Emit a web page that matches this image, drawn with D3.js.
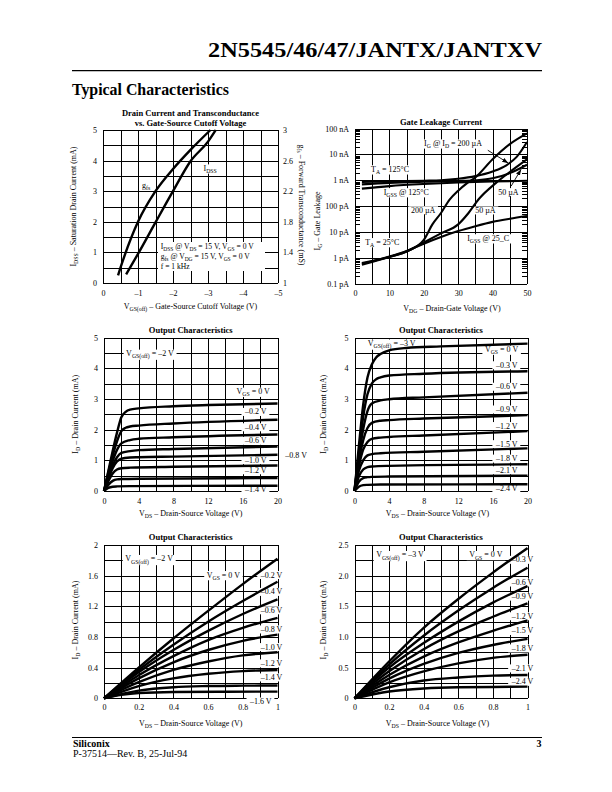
<!DOCTYPE html>
<html><head><meta charset="utf-8">
<script src="https://cdn.jsdelivr.net/npm/d3@7"></script>
<style>body{margin:0;background:#fff}svg{display:block}</style>
</head><body><svg id="c" width="612" height="792"></svg>
<script>
// ---------- Chart 1: Drain current and transconductance ----------
const c1XTicks = [0,-1,-2,-3,-4,-5];
const c1XLabels = ["0","–1","–2","–3","–4","–5"];
const c1YTicks = [0,1,2,3,4,5];
const c1YLabels = ["0","1","2","3","4","5"];
const c1Y2Ticks = [1,1.4,1.8,2.2,2.6,3];
const c1Y2Labels = ["1","1.4","1.8","2.2","2.6","3"];
const c1Idss = [[-3.22,5.0],[-3.0,4.62],[-2.5,3.98],[-2.0,3.0],[-1.5,1.98],[-1.0,0.95],[-0.66,0.28]];
const c1Gfs = [[-3.07,3.0],[-2.5,2.74],[-2.0,2.49],[-1.5,2.2],[-1.0,1.8],[-0.5,1.2],[-0.43,1.1]];

// ---------- Chart 2: Gate leakage (pA) ----------
const c2XTicks = [0,10,20,30,40,50];
const c2XLabels = ["0","10","20","30","40","50"];
const c2YTicks = [0.1,1,10,100,1000,10000,100000];
const c2YLabels = ["0.1 pA","1 pA","10 pA","100 pA","1 nA","10 nA","100 nA"];
const c2Igss125 = [[2,480],[10,600],[20,720],[30,820],[40,900],[50,960]];
const c2Id200At125 = [[2,860],[10,910],[20,970],[25,1010],[30,1150],[35,1450],[40,2200],[44,3800],[47,8000],[50,30000]];
const c2Id50At125 = [[2,700],[10,800],[20,880],[30,940],[35,1000],[40,1200],[45,1900],[50,4000]];
const c2Igss25 = [[2,0.6],[10,1.15],[15,1.9],[20,3.6],[25,6.5],[30,11],[35,17],[40,25],[45,33],[50,42]];
const c2Id50At25 = [[2,0.65],[10,1.1],[15,1.8],[20,4],[25,9],[30,20],[33,55],[36,190],[41,800],[45,2100],[50,6500]];
const c2Id200At25 = [[2,0.55],[10,1.1],[15,1.8],[20,5],[22.5,20],[25,55],[27.5,180],[30,400],[32.5,760],[35,1300],[40,6500],[45,25000],[50,65000]];

// ---------- Chart 3: Output characteristics, VGS(off) = -2 V ----------
const c3XTicks = [0,4,8,12,16,20];
const c3XLabels = ["0","4","8","12","16","20"];
const c3YTicks = [0,1,2,3,4,5];
const c3YLabels = ["0","1","2","3","4","5"];
const c3Vgs = ["0","–0.2","–0.4","–0.6","–0.8","–1.0","–1.2","–1.4"];
const c3Curves = [
  [[0,0],[0.5,0.65],[1,1.3],[1.5,1.9],[2,2.4],[2.5,2.58],[3,2.65],[4,2.69],[8,2.76],[12,2.8],[20,2.85]],
  [[0,0],[0.5,0.6],[1,1.15],[1.5,1.62],[2,1.95],[2.5,2.06],[3,2.1],[4,2.13],[8,2.2],[20,2.32]],
  [[0,0],[0.5,0.52],[1,0.98],[1.5,1.34],[2,1.55],[3,1.66],[4,1.7],[8,1.75],[20,1.84]],
  [[0,0],[0.5,0.45],[1,0.84],[1.5,1.1],[2,1.24],[3,1.3],[4,1.33],[8,1.37],[20,1.45]],
  [[0,0],[0.5,0.4],[1,0.74],[1.5,0.96],[2,1.05],[3,1.09],[4,1.1],[8,1.12],[20,1.18]],
  [[0,0],[0.5,0.32],[1,0.57],[1.5,0.7],[2,0.74],[3,0.76],[8,0.79],[20,0.83]],
  [[0,0],[0.5,0.2],[1,0.33],[1.5,0.38],[2,0.39],[4,0.4],[20,0.42]],
  [[0,0],[0.5,0.1],[1,0.14],[1.5,0.15],[3,0.16],[20,0.17]]
];

// ---------- Chart 4: Output characteristics, VGS(off) = -3 V ----------
const c4Vgs = ["0","–0.3","–0.6","–0.9","–1.2","–1.5","–1.8","–2.1","–2.4"];
const c4Curves = [
  [[0,0],[0.5,1.45],[1,2.8],[1.5,3.7],[2,4.12],[2.5,4.35],[3,4.46],[4,4.58],[6,4.66],[10,4.71],[20,4.8]],
  [[0,0],[0.5,1.25],[1,2.4],[1.5,3.15],[2,3.5],[2.5,3.64],[3,3.7],[4,3.76],[8,3.82],[20,3.9]],
  [[0,0],[0.5,1.1],[1,2.0],[1.5,2.6],[2,2.85],[3,2.95],[4,2.99],[8,3.05],[20,3.2]],
  [[0,0],[0.5,0.95],[1,1.65],[1.5,2.05],[2,2.22],[3,2.29],[4,2.31],[8,2.36],[20,2.47]],
  [[0,0],[0.5,0.8],[1,1.35],[1.5,1.6],[2,1.7],[3,1.74],[4,1.76],[8,1.81],[20,1.95]],
  [[0,0],[0.5,0.65],[1,1.0],[1.5,1.16],[2,1.2],[3,1.23],[8,1.28],[20,1.39]],
  [[0,0],[0.5,0.47],[1,0.7],[1.5,0.78],[2,0.8],[4,0.82],[20,0.87]],
  [[0,0],[0.5,0.3],[1,0.42],[1.5,0.45],[2,0.46],[4,0.47],[20,0.5]],
  [[0,0],[0.5,0.14],[1,0.19],[1.5,0.2],[3,0.21],[20,0.22]]
];

// ---------- Chart 5: low-VDS, VGS(off) = -2 V ----------
const c5XTicks = [0,0.2,0.4,0.6,0.8,1];
const c5XLabels = ["0","0.2","0.4","0.6","0.8","1"];
const c5YTicks = [0,0.4,0.8,1.2,1.6,2];
const c5YLabels = ["0","0.4","0.8","1.2","1.6","2"];
const c5Vgs = ["0","–0.2","–0.4","–0.6","–0.8","–1.0","–1.2","–1.4","–1.6"];
const c5Curves = [
  [[0,0],[0.2,0.4],[0.4,0.78],[0.6,1.14],[0.8,1.49],[1,1.82]],
  [[0,0],[0.2,0.37],[0.4,0.7],[0.6,1.0],[0.8,1.27],[1,1.52]],
  [[0,0],[0.2,0.34],[0.4,0.63],[0.6,0.88],[0.8,1.1],[1,1.29]],
  [[0,0],[0.2,0.3],[0.4,0.55],[0.6,0.76],[0.8,0.92],[1,1.05]],
  [[0,0],[0.2,0.26],[0.4,0.47],[0.6,0.63],[0.8,0.75],[1,0.83]],
  [[0,0],[0.2,0.21],[0.4,0.37],[0.6,0.48],[0.8,0.56],[1,0.6]],
  [[0,0],[0.2,0.16],[0.4,0.26],[0.6,0.32],[0.8,0.355],[1,0.37]],
  [[0,0],[0.2,0.1],[0.4,0.145],[0.6,0.16],[0.8,0.165],[1,0.167]],
  [[0,0],[0.1,0.045],[0.2,0.07],[0.4,0.083],[0.7,0.086],[1,0.087]]
];

// ---------- Chart 6: low-VDS, VGS(off) = -3 V ----------
const c6YTicks = [0,0.5,1,1.5,2,2.5];
const c6YLabels = ["0","0.5","1.0","1.5","2.0","2.5"];
const c6Vgs = ["0","–0.3","–0.6","–0.9","–1.2","–1.5","–1.8","–2.1","–2.4"];
const c6Curves = [
  [[0,0],[0.2,0.6],[0.4,1.15],[0.6,1.62],[0.8,2.05],[1,2.45]],
  [[0,0],[0.2,0.55],[0.4,1.02],[0.6,1.43],[0.8,1.8],[1,2.13]],
  [[0,0],[0.2,0.5],[0.4,0.9],[0.6,1.25],[0.8,1.56],[1,1.83]],
  [[0,0],[0.2,0.44],[0.4,0.8],[0.6,1.09],[0.8,1.33],[1,1.55]],
  [[0,0],[0.2,0.38],[0.4,0.68],[0.6,0.91],[0.8,1.1],[1,1.27]],
  [[0,0],[0.2,0.32],[0.4,0.56],[0.6,0.74],[0.8,0.87],[1,0.97]],
  [[0,0],[0.2,0.26],[0.4,0.44],[0.6,0.57],[0.8,0.66],[1,0.71]],
  [[0,0],[0.2,0.18],[0.4,0.29],[0.6,0.34],[0.8,0.37],[1,0.38]],
  [[0,0],[0.2,0.11],[0.4,0.16],[0.6,0.18],[0.8,0.185],[1,0.19]]
];

// ================= drawing =================
const FONT = '"Liberation Serif","Times New Roman",Times,serif';
const svg = d3.select("#c");
svg.append("rect").attr("width",612).attr("height",792).attr("fill","#fff");

function rich(t, str, fs) {
  const parts = str.split(/(_\{[^}]*\})/).filter(s => s.length);
  let shifted = false;
  parts.forEach(p => {
    if (p.startsWith("_{")) {
      t.append("tspan").attr("font-size", fs*0.72).attr("dy", fs*0.28).text(p.slice(2,-1));
      shifted = true;
    } else {
      const s = t.append("tspan").text(p);
      if (shifted) { s.attr("dy", -fs*0.28); shifted = false; }
    }
  });
}
function addText(g, x, y, str, o = {}) {
  const fs = o.fs || 8;
  const t = g.append("text").attr("x", x).attr("y", y + fs*0.33)
    .attr("font-size", fs).attr("font-family", FONT)
    .attr("text-anchor", o.anchor || "middle").attr("fill", "#000");
  if (o.bold) t.attr("font-weight", "bold");
  if (o.rotate) t.attr("transform", `rotate(${o.rotate},${x},${y})`);
  rich(t, str, fs);
  if (o.bg) {
    const b = t.node().getBBox();
    g.insert("rect", () => t.node()).attr("x", b.x - 2.5).attr("y", b.y + 0.5)
      .attr("width", b.width + 5).attr("height", b.height - 1).attr("fill", "#fff");
  }
  return t;
}

function panel(o) {
  const g = svg.append("g");
  const [xa, xb] = o.x.range(); const [yb, ya] = o.y.range();
  const grid = g.append("g").attr("shape-rendering","crispEdges");
  grid.append("g").attr("transform", `translate(0,${yb})`)
    .call(d3.axisBottom(o.x).tickValues(o.gridX).tickSize(-(yb-ya)).tickFormat(""));
  grid.append("g").attr("transform", `translate(${xa},0)`)
    .call(d3.axisLeft(o.y).tickValues(o.gridY).tickSize(-(xb-xa)).tickFormat(""));
  grid.selectAll(".domain").remove();
  grid.selectAll("line").attr("stroke","#000").attr("stroke-width",1);
  const ax = g.append("g").attr("transform", `translate(0,${yb})`)
    .call(d3.axisBottom(o.x).tickValues(o.xTicks).tickFormat(d => o.xLabels[o.xTicks.indexOf(d)]).tickSize(0).tickPadding(o.xPad || 7));
  const ay = g.append("g").attr("transform", `translate(${xa},0)`)
    .call(d3.axisLeft(o.y).tickValues(o.yTicks).tickFormat(d => o.yLabels[o.yTicks.indexOf(d)]).tickSize(0).tickPadding(6));
  [ax, ay].forEach(a => { a.select(".domain").remove(); a.attr("font-family", FONT).attr("font-size", 8); a.selectAll("text").attr("fill","#000"); });
  o.title.forEach((tt, i) => addText(g, (xa+xb)/2, o.titleY + i*9.7, tt, {bold:true, fs:8.5}));
  addText(g, o.xLabelX || (xa+xb)/2, o.xLabelY, o.xLabel, {});
  addText(g, o.yLabelX, o.yLabelY || (ya+yb)/2, o.yLabel, {rotate:-90});
  const lab = g.append("g");
  const cur = g.append("g");
  return {g, lab, cur, x:o.x, y:o.y};
}
function drawCurves(p, curves, yScale, w) {
  const ys = yScale || p.y;
  const line = d3.line().x(d => p.x(d[0])).y(d => ys(d[1])).curve(d3.curveMonotoneX);
  p.cur.selectAll(null).data(curves).join("path")
    .attr("d", d => line(d)).attr("fill","none").attr("stroke","#000")
    .attr("stroke-width", w || 2.4).attr("stroke-linejoin","round").attr("stroke-linecap","butt");
}

// ---- Chart 1 ----
{
  const x = d3.scaleLinear([0,-5],[103,278]);
  const y = d3.scaleLinear([0,5],[283,130]);
  const y2 = d3.scaleLinear([1,3],[283,130]);
  const p = panel({x, y, gridX: d3.range(0,-5.01,-0.5), gridY: d3.range(0,5.01,0.5),
    xTicks:c1XTicks, xLabels:c1XLabels, yTicks:c1YTicks, yLabels:c1YLabels,
    title:["Drain Current and Transconductance","vs. Gate-Source Cutoff Voltage"], titleY:113,
    xLabel:"V_{GS(off)} – Gate-Source Cutoff Voltage (V)", xLabelY:306,
    yLabel:"I_{DSS} – Saturation Drain Current (mA)", yLabelX:73});
  const ar = p.g.append("g").attr("transform","translate(278,0)")
    .call(d3.axisRight(y2).tickValues(c1Y2Ticks).tickFormat(d => c1Y2Labels[c1Y2Ticks.indexOf(d)]).tickSize(0).tickPadding(5));
  ar.select(".domain").remove(); ar.attr("font-family",FONT).attr("font-size",8);
  addText(p.g, 301.5, 205, "g_{fs} – Forward Transconductance (mS)", {rotate:90});
  p.lab.append("rect").attr("x",158).attr("y",242).attr("width",107).attr("height",29).attr("fill","#fff");
  addText(p.lab, x(-1.65), y(1.19), "I_{DSS} @ V_{DS} = 15 V, V_{GS} = 0 V", {anchor:"start", fs:7.6});
  addText(p.lab, x(-1.65), y(0.875), "g_{fs} @ V_{DG} = 15 V, V_{GS} = 0 V", {anchor:"start", fs:7.6});
  addText(p.lab, x(-1.65), y(0.555), "f = 1 kHz", {anchor:"start", fs:7.6});
  addText(p.lab, x(-1.23), y(3.2), "g_{fs}", {bg:true});
  addText(p.lab, x(-3.06), y(3.75), "I_{DSS}", {bg:true});
  drawCurves(p, [c1Idss]);
  drawCurves(p, [c1Gfs], y2);
}

// ---- Chart 2 ----
{
  const x = d3.scaleLinear([0,50],[355,527]);
  const y = d3.scaleLog([0.1,100000],[284,128.5]);
  const p = panel({x, y, gridX: d3.range(0,50.1,5), gridY: c2YTicks,
    xTicks:c2XTicks, xLabels:c2XLabels, yTicks:c2YTicks, yLabels:c2YLabels, xPad:6,
    title:["Gate Leakage Current"], titleY:122.5,
    xLabel:"V_{DG} – Drain-Gate Voltage (V)", xLabelX:452, xLabelY:308,
    yLabel:"I_{G} – Gate Leakage", yLabelX:317, yLabelY:221});
  const minors = [];
  for (let d = -1; d < 5; d++) for (let k = 2; k <= 9; k++) minors.push(k * Math.pow(10, d));
  const ml = p.g.append("g").attr("transform","translate(355,0)").call(d3.axisLeft(y).tickValues(minors).tickSize(-5).tickFormat(""));
  const mr = p.g.append("g").attr("transform","translate(527,0)").call(d3.axisRight(y).tickValues(minors).tickSize(-5).tickFormat(""));
  [ml, mr].forEach(a => { a.select(".domain").remove(); a.selectAll("line").attr("stroke","#000").attr("stroke-width",1).attr("shape-rendering","crispEdges"); });
  const ann = [
    [28.5, 27000, "I_{G} @ I_{D} = 200 µA"], [10.2, 2700, "T_{A} = 125°C"], [14.9, 355, "I_{GSS} @ 125°C"],
    [19.8, 71, "200 µA"], [37.9, 70, "50 µA"], [44.6, 355, "50 µA"], [7.9, 4.2, "T_{A} = 25°C"], [38.7, 5.9, "I_{GSS} @ 25_C"]
  ];
  ann.forEach(a => addText(p.lab, x(a[0]), y(a[1]), a[2], {bg:true}));
  drawCurves(p, [c2Igss125, c2Id200At125, c2Id50At125, c2Igss25, c2Id50At25, c2Id200At25], null, 2.1);
  const defs = svg.append("defs");
  defs.append("marker").attr("id","ah").attr("viewBox","0 0 10 10").attr("refX",10).attr("refY",5)
    .attr("markerWidth",7).attr("markerHeight",7).attr("orient","auto-start-reverse")
    .append("path").attr("d","M0,1.5L10,5L0,8.5Z").attr("fill","#000");
  const arrows = [[[38.6,14500],[44.6,4600]],[[45.4,600],[48.3,2700]]];
  arrows.forEach(a => p.cur.append("line").attr("x1",x(a[0][0])).attr("y1",y(a[0][1])).attr("x2",x(a[1][0])).attr("y2",y(a[1][1]))
    .attr("stroke","#000").attr("stroke-width",0.9).attr("marker-end","url(#ah)"));
}

// ---- Chart 3 ----
{
  const x = d3.scaleLinear([0,20],[104,277.5]);
  const y = d3.scaleLinear([0,5],[491,337.5]);
  const p = panel({x, y, gridX: d3.range(0,20.1,2), gridY: d3.range(0,5.01,0.5),
    xTicks:c3XTicks, xLabels:c3XLabels, yTicks:c3YTicks, yLabels:c3YLabels,
    title:["Output Characteristics"], titleY:330,
    xLabel:"V_{DS} – Drain-Source Voltage (V)", xLabelY:513.5,
    yLabel:"I_{D} – Drain Current (mA)", yLabelX:75});
  addText(p.lab, x(5.3), y(4.48), "V_{GS(off)} = –2 V", {bg:true});
  addText(p.lab, x(17.2), y(3.24), "V_{GS} = 0 V", {bg:true});
  const ly = [null, 2.58, 2.08, 1.64, null, 1.01, 0.68, 0.065];
  c3Vgs.forEach((v, i) => { if (ly[i] != null) addText(p.lab, x(17.5), y(ly[i]), v + " V", {bg:true}); });
  addText(p.lab, x(20.9), y(1.17), c3Vgs[4] + " V", {anchor:"start"});
  drawCurves(p, c3Curves);
}

// ---- Chart 4 ----
{
  const x = d3.scaleLinear([0,20],[354.5,527.5]);
  const y = d3.scaleLinear([0,5],[491,337.5]);
  const p = panel({x, y, gridX: d3.range(0,20.1,2), gridY: d3.range(0,5.01,0.5),
    xTicks:c3XTicks, xLabels:c3XLabels, yTicks:c3YTicks, yLabels:c3YLabels,
    title:["Output Characteristics"], titleY:330,
    xLabel:"V_{DS} – Drain-Source Voltage (V)", xLabelX:437.5, xLabelY:513.5,
    yLabel:"I_{D} – Drain Current (mA)", yLabelX:323.5});
  addText(p.lab, x(4.3), y(4.81), "V_{GS(off)} = –3 V", {bg:true});
  addText(p.lab, x(17.0), y(4.61), "V_{GS} = 0 V", {bg:true});
  const ly = [null, 4.10, 3.40, 2.66, 2.12, 1.53, 1.06, 0.68, 0.09];
  c4Vgs.forEach((v, i) => { if (ly[i] != null) addText(p.lab, x(17.6), y(ly[i]), v + " V", {bg:true}); });
  drawCurves(p, c4Curves);
}

// ---- Chart 5 ----
{
  const x = d3.scaleLinear([0,1],[104,277.5]);
  const y = d3.scaleLinear([0,2],[698.3,545]);
  const p = panel({x, y, gridX: d3.range(0,1.001,0.1), gridY: d3.range(0,2.001,0.2),
    xTicks:c5XTicks, xLabels:c5XLabels, yTicks:c5YTicks, yLabels:c5YLabels, xPad:6.5,
    title:["Output Characteristics"], titleY:537,
    xLabel:"V_{DS} – Drain-Source Voltage (V)", xLabelY:723.3,
    yLabel:"I_{D} – Drain Current (mA)", yLabelX:75, yLabelY:620});
  addText(p.lab, x(0.26), y(1.82), "V_{GS(off)} = –2 V", {bg:true});
  addText(p.lab, x(0.688), y(1.61), "V_{GS} = 0 V", {bg:true});
  const ly = [null, 1.61, 1.39, 1.15, 0.90, 0.67, 0.457, 0.274, -0.04];
  c5Vgs.forEach((v, i) => { if (ly[i] != null) addText(p.lab, x(i === 8 ? 0.904 : 0.966), y(ly[i]), v + " V", {bg:true}); });
  drawCurves(p, c5Curves);
}

// ---- Chart 6 ----
{
  const x = d3.scaleLinear([0,1],[354.5,527.5]);
  const y = d3.scaleLinear([0,2.5],[698.3,545]);
  const p = panel({x, y, gridX: d3.range(0,1.001,0.1), gridY: d3.range(0,2.501,0.25),
    xTicks:c5XTicks, xLabels:c5XLabels, yTicks:c6YTicks, yLabels:c6YLabels, xPad:6.5,
    title:["Output Characteristics"], titleY:537,
    xLabel:"V_{DS} – Drain-Source Voltage (V)", xLabelX:437.5, xLabelY:723.3,
    yLabel:"I_{D} – Drain Current (mA)", yLabelX:323.5, yLabelY:620});
  addText(p.lab, x(0.263), y(2.34), "V_{GS(off)} = –3 V", {bg:true});
  addText(p.lab, x(0.759), y(2.34), "V_{GS} = 0 V", {bg:true});
  const ly = [null, 2.26, 1.89, 1.66, 1.34, 1.10, 0.816, 0.49, 0.27];
  c6Vgs.forEach((v, i) => { if (ly[i] != null) addText(p.lab, x(0.971), y(ly[i]), v + " V", {bg:true}); });
  drawCurves(p, c6Curves);
}

// ---- page header / footer ----
svg.append("text").attr("x",208).attr("y",56.5).attr("font-family",FONT).attr("font-size",22)
  .attr("font-weight","bold").attr("textLength",334).attr("lengthAdjust","spacingAndGlyphs").text("2N5545/46/47/JANTX/JANTXV");
svg.append("line").attr("x1",72).attr("x2",542).attr("y1",70.7).attr("y2",70.7).attr("stroke","#000").attr("stroke-width",1.3);
svg.append("text").attr("x",72).attr("y",94.5).attr("font-family",FONT).attr("font-size",16.5)
  .attr("font-weight","bold").attr("textLength",157).attr("lengthAdjust","spacingAndGlyphs").text("Typical Characteristics");
svg.append("line").attr("x1",72).attr("x2",542).attr("y1",737.5).attr("y2",737.5).attr("stroke","#000").attr("stroke-width",1);
svg.append("text").attr("x",73).attr("y",747).attr("font-family",FONT).attr("font-size",10).attr("font-weight","bold").text("Siliconix");
svg.append("text").attr("x",73).attr("y",756.5).attr("font-family",FONT).attr("font-size",10).text("P-37514—Rev. B, 25-Jul-94");
svg.append("text").attr("x",541.5).attr("y",747).attr("font-family",FONT).attr("font-size",10).attr("font-weight","bold").attr("text-anchor","end").text("3");
</script></body></html>
